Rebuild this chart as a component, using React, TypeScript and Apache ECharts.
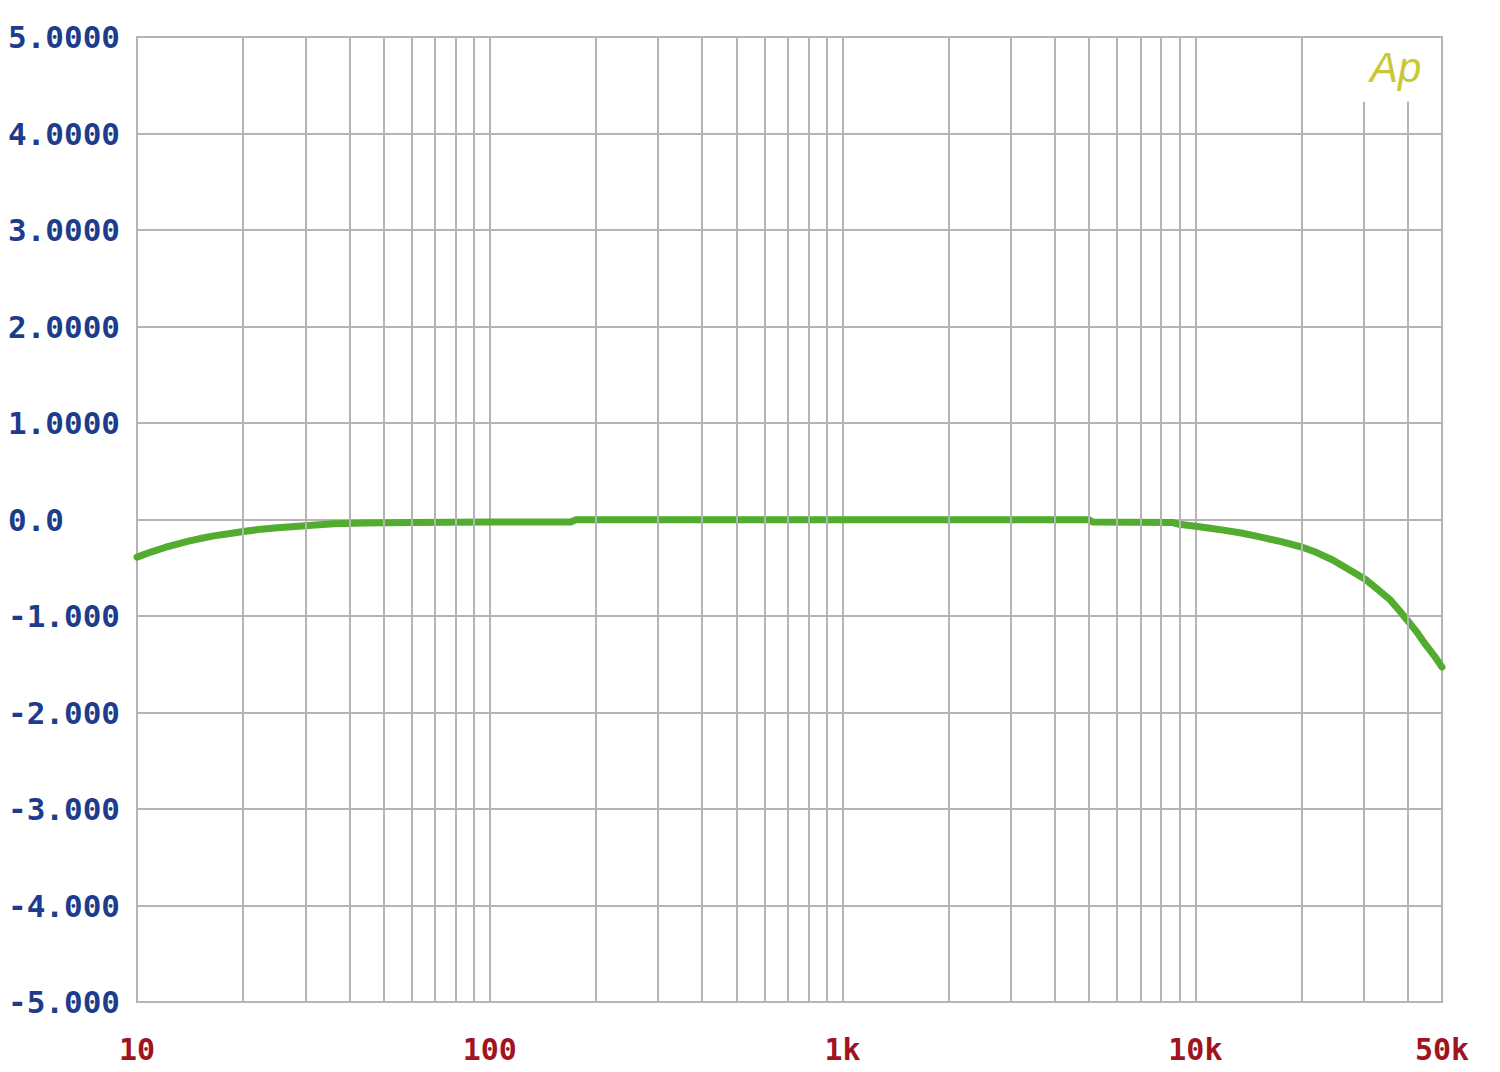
import React, { useEffect, useRef } from "react";
import * as echarts from "echarts";

const freqHz = [10, 11, 12, 13, 14, 15, 16.5, 18, 20, 22.5, 25, 30, 36, 44, 60, 100, 170, 175, 1000, 5000, 5100, 8600, 9000, 10000, 11000, 12000, 13500, 15000, 17500, 20000, 22000, 24500, 27000, 30300, 32500, 35600, 38000, 40400, 42500, 45000, 47500, 50000];
const levelDb = [-0.39, -0.335, -0.29, -0.255, -0.225, -0.2, -0.17, -0.15, -0.125, -0.1, -0.085, -0.065, -0.045, -0.035, -0.03, -0.027, -0.025, -0.003, -0.003, -0.003, -0.025, -0.03, -0.05, -0.07, -0.09, -0.11, -0.14, -0.175, -0.23, -0.285, -0.34, -0.42, -0.51, -0.62, -0.71, -0.83, -0.95, -1.07, -1.17, -1.3, -1.41, -1.53];

const yTickValues = [5, 4, 3, 2, 1, 0, -1, -2, -3, -4, -5];
const yTickLabels = ["5.0000", "4.0000", "3.0000", "2.0000", "1.0000", "0.0", "-1.000", "-2.000", "-3.000", "-4.000", "-5.000"];

const xTickExp = [1, 2, 3, 4, 4.699];
const xTickLabels = ["10", "100", "1k", "10k", "50k"];

const minorGridFull = [20, 30, 40, 50, 60, 70, 80, 90, 200, 300, 400, 500, 600, 700, 800, 900, 2000, 3000, 4000, 5000, 6000, 7000, 8000, 9000, 20000];
const minorGridShort = [30000, 40000];
const shortGridTop = 4.33;

const GRID = "#b4b4b4";

export default function App() {
  const ref = useRef<HTMLDivElement>(null);
  useEffect(() => {
    if (!ref.current) return;
    const chart = echarts.init(ref.current, null, { renderer: "svg" });
    const markData: any[] = [];
    minorGridFull.forEach((f) => markData.push({ xAxis: f }));
    minorGridShort.forEach((f) => markData.push([{ coord: [f, -5] }, { coord: [f, shortGridTop] }]));
    chart.setOption({
      animation: false,
      backgroundColor: "#ffffff",
      grid: { left: 137, right: 58, top: 37, bottom: 70, show: true, borderColor: GRID, borderWidth: 2, backgroundColor: "transparent" },
      xAxis: {
        type: "log",
        logBase: 10,
        min: 10,
        max: 50000,
        axisLine: { show: false },
        axisTick: { show: false },
        splitLine: { show: true, lineStyle: { color: GRID, width: 2 } },
        axisLabel: {
          showMinLabel: true,
          showMaxLabel: true,
          margin: 32,
          color: "#a0141e",
          fontFamily: "DejaVu Sans Mono",
          fontWeight: "bold",
          fontSize: 30,
          formatter: (v: number) => {
            const e = Math.log10(v);
            for (let i = 0; i < xTickExp.length; i++) if (Math.abs(e - xTickExp[i]) < 0.01) return xTickLabels[i];
            return "";
          },
        },
      },
      yAxis: {
        type: "value",
        min: -5,
        max: 5,
        interval: 1,
        axisLine: { show: false },
        axisTick: { show: false },
        splitLine: { show: true, lineStyle: { color: GRID, width: 2 } },
        axisLabel: {
          align: "left",
          margin: 129,
          color: "#1e3c8c",
          fontFamily: "DejaVu Sans Mono",
          fontWeight: "bold",
          fontSize: 31,
          formatter: (v: number) => {
            const i = yTickValues.findIndex((t) => Math.abs(t - v) < 1e-6);
            return i >= 0 ? yTickLabels[i] : "";
          },
        },
      },
      series: [
        {
          type: "line",
          data: [],
          z: 1,
          markLine: {
            silent: true,
            symbol: ["none", "none"],
            label: { show: false },
            lineStyle: { color: GRID, width: 2, type: "solid" },
            emphasis: { disabled: true },
            data: markData,
          },
        },
        {
          type: "line",
          z: 3,
          data: freqHz.map((f, i) => [f, levelDb[i]]),
          showSymbol: false,
          lineStyle: { color: "#52ad2e", width: 7, join: "round", cap: "round" },
          itemStyle: { color: "#52ad2e" },
        },
      ],
      graphic: [
        { type: "rect", left: 1345, top: 39, shape: { width: 86, height: 62 }, style: { fill: "#ffffff" }, z: 10 },
        {
          type: "text",
          left: 1370,
          top: 46,
          z: 11,
          style: { text: "Ap", fontSize: 42, fontFamily: "Liberation Sans", fontStyle: "italic", fontWeight: "lighter", fill: "#c8c832" },
        },
      ],
    });
    return () => chart.dispose();
  }, []);
  return <div ref={ref} style={{ position: "absolute", left: 0, top: 0, width: 1500, height: 1072 }} />;
}
